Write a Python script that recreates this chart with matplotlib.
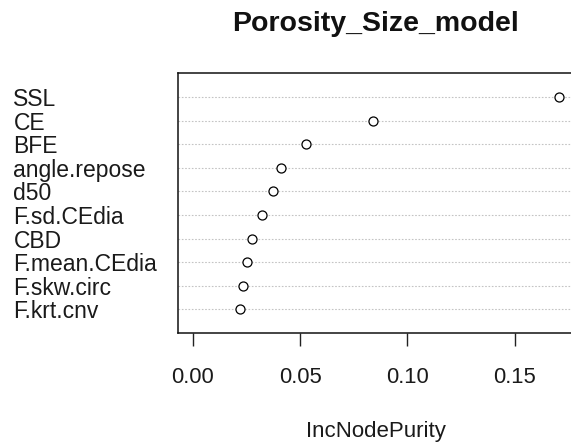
import matplotlib
matplotlib.use("Agg")
import matplotlib.pyplot as plt

plt.rcParams["font.family"] = ["Liberation Sans", "DejaVu Sans"]

# variable importance, bottom row first (as R dotchart draws it)
variables = ["F.krt.cnv", "F.skw.circ", "F.mean.CEdia", "CBD", "F.sd.CEdia",
             "d50", "angle.repose", "BFE", "CE", "SSL"]
inc_node_purity = [0.0220, 0.0234, 0.0254, 0.0274, 0.0322,
                   0.0373, 0.0412, 0.0526, 0.0841, 0.1707]
x_ticks = [0.00, 0.05, 0.10, 0.15]
x_tick_labels = ["0.00", "0.05", "0.10", "0.15"]

W, H = 571, 443
fig = plt.figure(figsize=(W / 100, H / 100), dpi=100)
ax = fig.add_axes([178 / W, 110 / H, 396 / W, 259.6 / H])

rows = list(range(1, len(variables) + 1))
for r in rows:
    ax.axhline(r, color="#c4c4c4", linestyle=(0, (1.5, 1.5)), linewidth=0.8, zorder=1)
ax.plot(inc_node_purity, rows, linestyle="none", marker="o", markersize=6.5,
        markerfacecolor="white", markeredgecolor="black", markeredgewidth=0.9, zorder=3)

# R: xlim = c(0, max) with 4% expansion
xmin, xmax = 0.0, max(inc_node_purity)
span = xmax - xmin
ax.set_xlim(xmin - 0.04 * span, xmax + 0.04 * span)
ax.set_ylim(0, len(variables) + 1)

ax.set_xticks(x_ticks)
ax.set_xticklabels(x_tick_labels, fontsize=15.8, color="#1a1a1a")
ax.tick_params(axis="x", length=9.6, width=1.0, pad=15, color="#222222")

ax.set_yticks(rows)
ax.set_yticklabels(variables, fontsize=16.5, color="#1a1a1a", ha="left")
ax.tick_params(axis="y", length=0, pad=118.5)

for s in ax.spines.values():
    s.set_linewidth(1.1)
    s.set_color("#111111")

ax.set_xlabel("IncNodePurity", fontsize=16, color="#1a1a1a", va="baseline")
ax.xaxis.set_label_coords(0.5, -(436.7 - 333) / 259.6)

fig.text(376 / W, (H - 31) / H, "Porosity_Size_model", ha="center", va="baseline",
         fontsize=20.5, fontweight="bold", color="#111111")

fig.savefig("out.png", dpi=100)
